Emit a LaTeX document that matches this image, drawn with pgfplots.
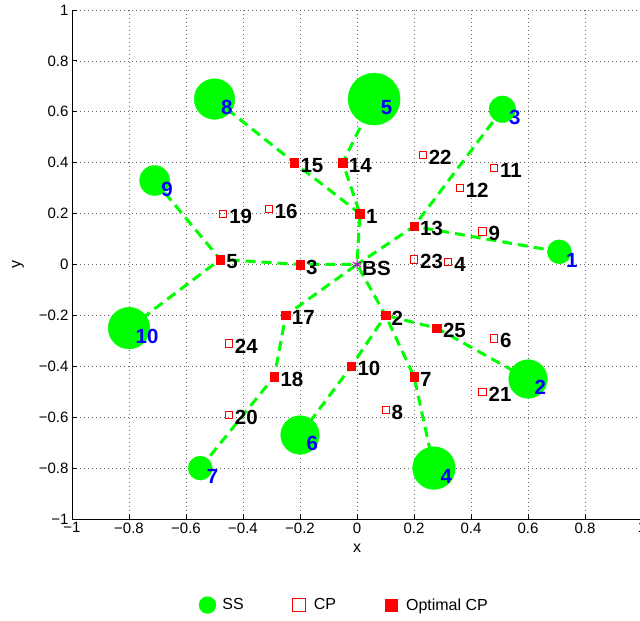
\documentclass[border=0pt]{standalone}
\usepackage{fontspec}
\setmainfont{Liberation Sans}
\usepackage{pgfplots}
\pgfplotsset{compat=1.18}
\usepackage{pgfplotstable}

\definecolor{ssgreen}{rgb}{0,1,0}
\definecolor{bsmag}{rgb}{0.75,0,0.75}

% SS positions and circle radii (pt)
\pgfplotstableread{
label x y r
1 0.71 0.05 12
2 0.60 -0.45 19.3
3 0.51 0.61 13.3
4 0.27 -0.80 21.3
5 0.06 0.65 26
6 -0.20 -0.67 19.3
7 -0.55 -0.80 12
8 -0.50 0.65 20.3
9 -0.71 0.33 15
10 -0.80 -0.25 20.8
}\sstab

% candidate points (not chosen)
\pgfplotstableread{
label x y
4 0.32 0.01
6 0.48 -0.29
8 0.10 -0.57
9 0.44 0.13
11 0.48 0.38
12 0.36 0.30
16 -0.31 0.22
19 -0.47 0.20
20 -0.45 -0.59
21 0.44 -0.50
22 0.23 0.43
23 0.20 0.02
24 -0.45 -0.31
}\cptab

% optimal candidate points
\pgfplotstableread{
label x y
1 0.01 0.20
2 0.10 -0.20
3 -0.20 0.00
5 -0.48 0.02
7 0.20 -0.44
10 -0.02 -0.40
13 0.20 0.15
14 -0.05 0.40
15 -0.22 0.40
17 -0.25 -0.20
18 -0.29 -0.44
25 0.28 -0.25
}\optab

\begin{document}
\begin{tikzpicture}
\begin{axis}[
  name=ax,
  width=570pt, height=509pt, scale only axis,
  xmin=-1, xmax=1, ymin=-1, ymax=1,
  axis x line*=bottom, axis y line*=left,
  tick align=inside,
  major tick length=5pt,
  xtick={-1,-0.8,-0.6,-0.4,-0.2,0,0.2,0.4,0.6,0.8,1},
  ytick={-1,-0.8,-0.6,-0.4,-0.2,0,0.2,0.4,0.6,0.8,1},
  xticklabels={−1,−0.8,−0.6,−0.4,−0.2,0,0.2,0.4,0.6,0.8,1},
  yticklabels={−1,−0.8,−0.6,−0.4,−0.2,0,0.2,0.4,0.6,0.8,1},
  grid=major,
  grid style={black!60, line width=0.6pt, dash pattern=on 0.7pt off 3.3pt},
  axis line style={line width=0.9pt, black},
  tick style={line width=0.9pt, black},
  ticklabel style={font=\fontsize{15}{17}\selectfont},
  xlabel={x}, ylabel={y},
  every axis x label/.style={at={(axis description cs:0.5,-0.0570)}, anchor=center, font=\fontsize{16}{18}\selectfont},
  every axis y label/.style={at={(axis description cs:-0.0947,0.5)}, anchor=center, rotate=90, font=\fontsize{16}{18}\selectfont},
  legend columns=3,
  legend style={draw=none, fill=none, at={(axis description cs:0.474,-0.169)}, anchor=center, inner sep=0pt,
    font=\fontsize{16}{18}\selectfont,
    /tikz/every even column/.append style={column sep=40pt}},
]
\addlegendimage{legend image code/.code={\path[draw=none, fill=none] (-13pt,-8pt) rectangle (13pt,8pt); \fill[ssgreen, draw=none] (0pt,0pt) circle (8.7pt);}}
\addlegendentry{SS}
\addlegendimage{legend image code/.code={\path[draw=none, fill=none] (-13pt,-8pt) rectangle (13pt,8pt); \draw[red, fill=none, line width=0.8pt] (-6.2pt,-6.2pt) rectangle (6.2pt,6.2pt);}}
\addlegendentry{CP}
\addlegendimage{legend image code/.code={\path[draw=none, fill=none] (-13pt,-8pt) rectangle (13pt,8pt); \fill[red, draw=none] (-6.5pt,-6.5pt) rectangle (6.5pt,6.5pt);}}
\addlegendentry{Optimal CP}

% candidate points
\addplot[only marks, mark=square, mark size=3.6pt, red, mark options={line width=0.8pt}, forget plot]
  table[x=x, y=y] {\cptab};
\addplot[only marks, mark=square*, mark size=4.3pt, red, mark options={fill=red, draw=red}, forget plot]
  table[x=x, y=y] {\optab};
% base station
\addplot[only marks, mark=asterisk, mark size=5pt, bsmag, mark options={line width=1pt}, forget plot]
  coordinates {(0,0)};

% links
\addplot[ssgreen, line width=3pt, dash pattern=on 10pt off 6pt, forget plot] coordinates {(0.06,0.65) (-0.05,0.40) (0.01,0.20) (0,0)};
\addplot[ssgreen, line width=3pt, dash pattern=on 10pt off 6pt, forget plot] coordinates {(-0.50,0.65) (-0.22,0.40) (0.01,0.20)};
\addplot[ssgreen, line width=3pt, dash pattern=on 10pt off 6pt, forget plot] coordinates {(0.51,0.61) (0.20,0.15) (0,0)};
\addplot[ssgreen, line width=3pt, dash pattern=on 10pt off 6pt, forget plot] coordinates {(0.71,0.05) (0.20,0.15)};
\addplot[ssgreen, line width=3pt, dash pattern=on 10pt off 6pt, forget plot] coordinates {(-0.71,0.33) (-0.48,0.02) (-0.20,0) (0,0)};
\addplot[ssgreen, line width=3pt, dash pattern=on 10pt off 6pt, forget plot] coordinates {(-0.80,-0.25) (-0.48,0.02)};
\addplot[ssgreen, line width=3pt, dash pattern=on 10pt off 6pt, forget plot] coordinates {(-0.55,-0.80) (-0.29,-0.44) (-0.25,-0.20) (0,0)};
\addplot[ssgreen, line width=3pt, dash pattern=on 10pt off 6pt, forget plot] coordinates {(-0.20,-0.67) (-0.02,-0.40) (0.10,-0.20) (0,0)};
\addplot[ssgreen, line width=3pt, dash pattern=on 10pt off 6pt, forget plot] coordinates {(0.27,-0.80) (0.20,-0.44) (0.10,-0.20)};
\addplot[ssgreen, line width=3pt, dash pattern=on 10pt off 6pt, forget plot] coordinates {(0.60,-0.45) (0.28,-0.25) (0.10,-0.20)};

% subscriber stations
\addplot[scatter, only marks, mark=*, forget plot,
  scatter/use mapped color={draw=ssgreen, fill=ssgreen},
  visualization depends on={\thisrow{r} \as \rad},
  scatter/@pre marker code/.append style={/tikz/mark size=\rad}]
  table[x=x, y=y] {\sstab};

% labels
\addplot[draw=none, mark=none, forget plot, nodes near coords, point meta=explicit symbolic,
  every node near coord/.append style={anchor=west, inner sep=0pt, xshift=6pt, yshift=-2.5pt, text=black, font=\fontsize{20.5}{22}\selectfont\bfseries}]
  table[x=x, y=y, meta=label] {\cptab};
\addplot[draw=none, mark=none, forget plot, nodes near coords, point meta=explicit symbolic,
  every node near coord/.append style={anchor=west, inner sep=0pt, xshift=6pt, yshift=-2.5pt, text=black, font=\fontsize{20.5}{22}\selectfont\bfseries}]
  table[x=x, y=y, meta=label] {\optab};
\addplot[draw=none, mark=none, forget plot, nodes near coords, point meta=explicit symbolic,
  every node near coord/.append style={anchor=west, inner sep=0pt, xshift=5pt, yshift=-4pt, text=black, font=\fontsize{20.5}{22}\selectfont\bfseries}]
  coordinates {(0,0) [BS]};
\addplot[draw=none, mark=none, forget plot, nodes near coords, point meta=explicit symbolic,
  every node near coord/.append style={anchor=west, inner sep=0pt, xshift=6.5pt, yshift=-8.5pt, text=blue, font=\fontsize{20.5}{22}\selectfont\bfseries}]
  table[x=x, y=y, meta=label] {\sstab};
\end{axis}
\pgfresetboundingbox
\path (ax.south west) ++(-72pt,-102pt) rectangle ++(640pt,621pt);
\end{tikzpicture}
\end{document}
